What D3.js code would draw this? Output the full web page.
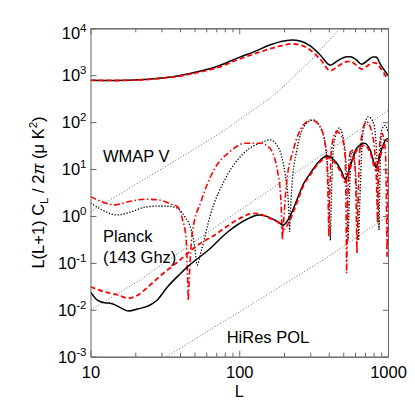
<!DOCTYPE html>
<html><head><meta charset="utf-8">
<script src="https://cdn.jsdelivr.net/npm/d3@7"></script>
<style>
html,body{margin:0;padding:0;background:#fff;}
svg{display:block;font-family:"Liberation Sans",Arial,Helvetica,sans-serif;}
</style></head>
<body>
<svg id="c" width="415" height="415"></svg>
<script>
// ---- data ----
const ttL   = [10,12,15,20,30,40,55,70,100,130,160,190,225,260,300,350,410,460,530,560,610,666,720,790,830,900,1000];
const ttBlack = [780,775,775,790,870,990,1230,1520,2400,3300,4400,5200,5650,5300,4200,2700,1630,2050,2480,2490,2150,1710,2000,2450,2450,1600,1000];
const ttRed   = [780,775,772,785,860,960,1180,1420,2200,2950,3650,4200,4650,4350,3450,2200,1250,1550,1950,1960,1650,1350,1550,1850,1820,1350,830];

const eeL     = [10,11,12,14,16,18,21,25,28,33,40,45,62,84,110,135,153,175,198,220,244,270,300,340,388,420,453,490,515,560,616,701,760,831,900,955,1000];
const eeBlack = [0.024,0.0165,0.0145,0.0135,0.011,0.0094,0.0105,0.0125,0.016,0.031,0.058,0.083,0.188,0.46,0.82,1.05,0.98,0.8,0.64,1.0,2.19,4.8,8.1,14,19,17,13.3,8.5,6.05,12,27.8,35.5,25,10.9,25,40,45];
const eeRedL  = [10,12.5,15.3,17.9,20.9,24.4,29.9,38.7,52.8,68.4,84,101,124,140,161,188,200,215,244,270,300,340,388,420,453,490,515,560,616,701,760,831,900,955,1000];
const eeRed   = [0.031,0.024,0.0207,0.0176,0.0207,0.031,0.055,0.106,0.241,0.394,0.62,0.89,1.14,1.08,0.89,0.68,0.52,0.72,1.9,4.4,7.5,13,17.5,15.5,12,7.5,5.2,11,25,32,22,9.5,22,35,40];

const teBlackL = [10,12,15,19,23,30,37,43,47.6,50.2,52,55.8,63.5,82,107,145,161,178,190,203,214,218,225,244,284,315,358,388,410,430,470,515,540,570,600,635,680,738,800,840,870,906,960,1000];
const teBlack  = [1.9,1.34,1.05,1.24,1.53,1.63,1.53,0.97,0.5,0.22,0.09,0.19,0.97,6.9,21.7,38,42,33,22,8.1,1.9,0.46,3.6,25.5,95,111,68,18.4,0.3,30,75,25.5,0.3,25,12,0.3,60,131,95,20,0.5,68,85,60];
const teRedL = [10,12,14.5,17.9,23.2,28.6,34.9,38.6,41.6,43.8,45.4,48.3,55.8,67.6,86.5,110,139,160,172,182,190,195,208,231,270,306,349,380,393,400,418,450,487,515,527,550,570,600,618,650,716,780,830,850,870,908,960,985,1000];
const teRed  = [2.58,2.0,1.72,2.0,2.27,2.2,1.78,1.57,0.82,0.36,0.0154,0.43,2.19,9.6,23.5,35.5,35.5,28,18,8,2.5,0.31,5,25.5,87,111,80,30,5,0.36,30,62.6,50,18.4,0.06,18,26,12,0.16,30,103,60,10,0.7,20,58,25,0.135,10];

const wmapL = [10,49,80,161,188,300,465];
const wmapV = [1.24,25.5,68,324,486,2000,9300];
const planckL = [10,21.5,87,1000];
const planckV = [0.0099,0.043,0.97,175];
const hiresL = [32.4,188,367,1000];
const hiresV = [0.001,0.031,0.115,1.0];

const xMajor = [10,100,1000];
const xMinor = [20,30,40,50,60,70,80,90,200,300,400,500,600,700,800,900];
const yDecades = [-3,-2,-1,0,1,2,3,4];

const labels = [
  {t:"WMAP V", x:103, y:161.7},
  {t:"Planck", x:103, y:241.7},
  {t:"(143 Ghz)", x:103, y:262.7},
  {t:"HiRes POL", x:226.7, y:342.7}
];

// ---- layout ----
const svg = d3.select("#c");
const X0=90.5, X1=388, Y0=356.7, Y1=28.3;
const x = d3.scaleLog().domain([10,1000]).range([X0,X1]);
const y = d3.scaleLog().domain([1e-3,1e4]).range([Y0,Y1]);
const FS = 16.5, AX="#666";

svg.append("defs").append("clipPath").attr("id","clip")
  .append("rect").attr("x",X0).attr("y",Y1).attr("width",X1-X0).attr("height",Y0-Y1);

const plot = svg.append("g").attr("clip-path","url(#clip)");
const pts = (Ls,Vs)=>Ls.map((l,i)=>[l,Vs[i]]);
const lineM = d3.line().x(d=>x(d[0])).y(d=>y(d[1])).curve(d3.curveMonotoneX);
const lineL = d3.line().x(d=>x(d[0])).y(d=>y(d[1]));

// path with sharp zero-crossing spikes: split at local minima, join segments
function spikyPath(data){
  const cuts=[0];
  for(let i=1;i<data.length-1;i++){
    if(data[i][1]<data[i-1][1] && data[i][1]<data[i+1][1] && data[i][1] < 0.25*Math.min(data[i-1][1],data[i+1][1])) cuts.push(i);
  }
  cuts.push(data.length-1);
  let d="";
  for(let k=0;k<cuts.length-1;k++){
    const seg=data.slice(cuts[k],cuts[k+1]+1);
    let s=lineM(seg);
    if(k>0) s=s.replace(/^M[^LC]*/,"");
    d+=s;
  }
  return d;
}

// noise lines
[[wmapL,wmapV],[planckL,planckV],[hiresL,hiresV]].forEach(([L,V])=>{
  plot.append("path").attr("d",lineL(pts(L,V))).attr("fill","none")
    .attr("stroke","#555").attr("stroke-width",0.9).attr("stroke-dasharray","1,2");
});

// TE
plot.append("path").attr("d",spikyPath(pts(teBlackL,teBlack))).attr("fill","none")
  .attr("stroke","#000").attr("stroke-width",1.3).attr("stroke-dasharray","1.3,1.7");
plot.append("path").attr("d",spikyPath(pts(teRedL,teRed))).attr("fill","none")
  .attr("stroke","#f00").attr("stroke-width",1.6).attr("stroke-dasharray","6,2.5,1.5,2.5");

// EE
plot.append("path").attr("d",lineM(pts(eeL,eeBlack))).attr("fill","none")
  .attr("stroke","#000").attr("stroke-width",1.5);
plot.append("path").attr("d",lineM(pts(eeRedL,eeRed))).attr("fill","none")
  .attr("stroke","#f00").attr("stroke-width",1.8).attr("stroke-dasharray","5,3");

// TT
plot.append("path").attr("d",lineM(pts(ttL,ttBlack))).attr("fill","none")
  .attr("stroke","#000").attr("stroke-width",1.5);
plot.append("path").attr("d",lineM(pts(ttL,ttRed))).attr("fill","none")
  .attr("stroke","#f00").attr("stroke-width",1.8).attr("stroke-dasharray","5,3");

// axes
function styleAxis(g){
  g.selectAll("path.domain").attr("stroke",AX);
  g.selectAll(".tick line").attr("stroke",AX);
  g.selectAll("text").attr("font-size",FS).attr("font-family","Liberation Sans, Arial, sans-serif").attr("fill","#000");
}
const gB = svg.append("g").attr("transform",`translate(0,${Y0})`)
  .call(d3.axisBottom(x).tickValues(xMajor).tickSize(-6).tickSizeOuter(0).tickPadding(10).tickFormat(d3.format("d")));
styleAxis(gB);
const gBm = svg.append("g").attr("transform",`translate(0,${Y0})`)
  .call(d3.axisBottom(x).tickValues(xMinor).tickSize(-4).tickSizeOuter(0).tickFormat(""));
styleAxis(gBm);
const gT = svg.append("g").attr("transform",`translate(0,${Y1})`)
  .call(d3.axisTop(x).tickValues(xMajor).tickSize(-6).tickSizeOuter(0).tickFormat(""));
styleAxis(gT);
const gTm = svg.append("g").attr("transform",`translate(0,${Y1})`)
  .call(d3.axisTop(x).tickValues(xMinor).tickSize(-4).tickSizeOuter(0).tickFormat(""));
styleAxis(gTm);
const yVals = yDecades.map(e=>Math.pow(10,e));
const gL = svg.append("g").attr("transform",`translate(${X0},0)`)
  .call(d3.axisLeft(y).tickValues(yVals).tickSize(-6).tickSizeOuter(0).tickFormat(""));
styleAxis(gL);
const gR = svg.append("g").attr("transform",`translate(${X1},0)`)
  .call(d3.axisRight(y).tickValues(yVals).tickSize(-5).tickSizeOuter(0).tickFormat(""));
styleAxis(gR);

// y tick labels with superscripts
yDecades.forEach(e=>{
  const yy = y(Math.pow(10,e)) + (e===4?5:0);
  const t = svg.append("text").attr("x",X0-4).attr("y",yy+6).attr("text-anchor","end")
    .attr("font-size",FS).attr("fill","#000");
  t.append("tspan").text("10");
  t.append("tspan").attr("dy",-7).attr("font-size",11.5).text(String(e));
});

// axis titles
svg.append("text").attr("x",(X0+X1)/2).attr("y",396.7).attr("text-anchor","middle")
  .attr("font-size",FS).text("L");
const yl = svg.append("text").attr("transform",`translate(43.5,${(Y0+Y1)/2}) rotate(-90)`)
  .attr("text-anchor","middle").attr("font-size",FS);
yl.append("tspan").text("L(L+1) C");
yl.append("tspan").attr("dy",4).attr("font-size",11.5).text("L");
yl.append("tspan").attr("dy",-4).text(" / 2");
yl.append("tspan").attr("font-style","italic").text("π");
yl.append("tspan").text(" (μ K");
yl.append("tspan").attr("dy",-7).attr("font-size",11.5).text("2");
yl.append("tspan").attr("dy",7).text(")");

// in-plot labels
labels.forEach(l=>{
  svg.append("text").attr("x",l.x).attr("y",l.y).attr("font-size",FS).text(l.t);
});
</script>
</body></html>
